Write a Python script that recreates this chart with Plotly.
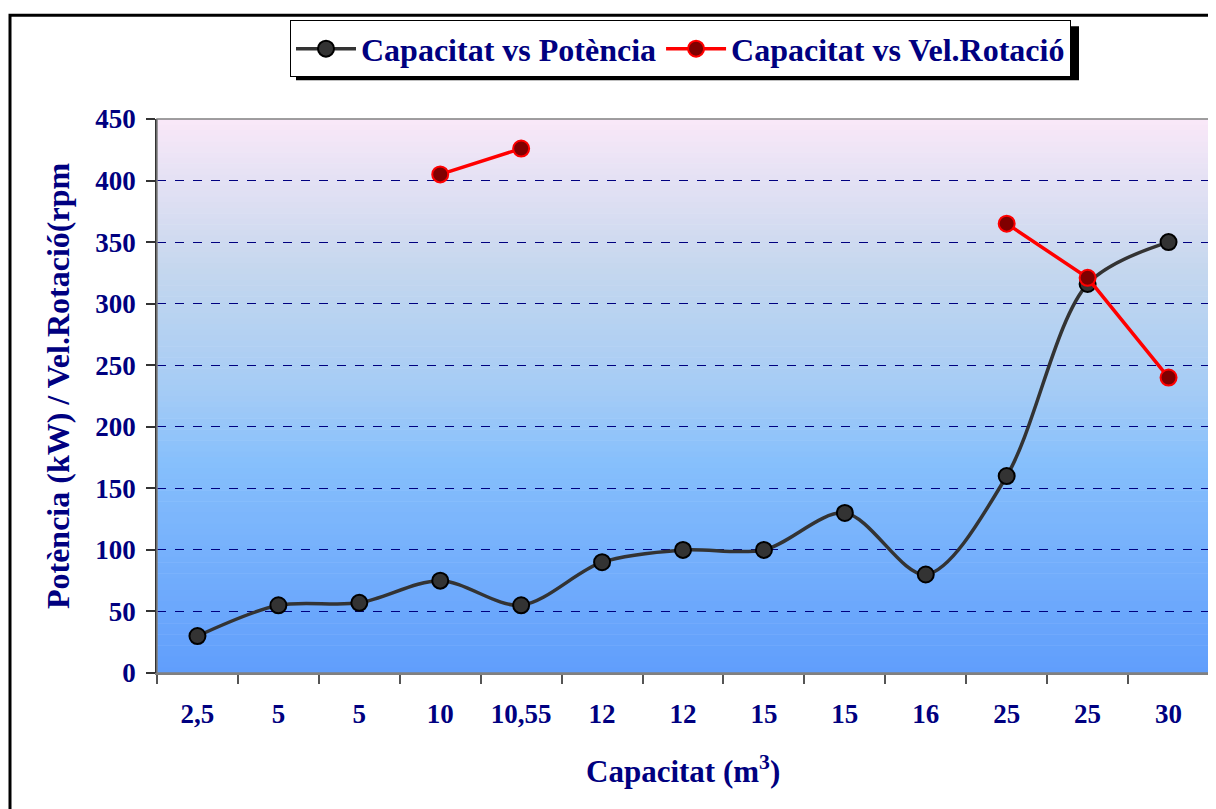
import plotly.graph_objects as go

categories = ["2,5", "5", "5", "10", "10,55", "12", "12", "15", "15", "16", "25", "25", "30"]
potencia = [30, 55, 57, 75, 55, 90, 100, 100, 130, 80, 160, 316, 350]
vel_rotacio = [None, None, None, 405, 426, None, None, None, None, None, 365, 321, 240]
y_ticks = [0, 50, 100, 150, 200, 250, 300, 350, 400, 450]

NAVY = "#000080"
FONT = "Liberation Serif"
xpos = list(range(len(categories)))

# page has 8px body margin; plot area in reference pixels: x 157..1209, y 117..673
L, T, R, B = 157, 117, 1209, 673
PW, PH = R - L, B - T

def px(X):
    return (X - L) / PW

def py(Y):
    return (B - Y) / PH

fig = go.Figure()
fig.add_trace(go.Scatter(
    x=xpos, y=potencia, mode="lines+markers", name="Capacitat vs Potència",
    line=dict(color="#333333", width=3.5, shape="spline", smoothing=0.9),
    marker=dict(size=16, color="#333333", line=dict(color="black", width=2)),
))
fig.add_trace(go.Scatter(
    x=xpos, y=vel_rotacio, mode="lines+markers", name="Capacitat vs Vel.Rotació",
    line=dict(color="#ff0000", width=3.5), connectgaps=False,
    marker=dict(size=16, color="#800000", line=dict(color="#ff0000", width=2)),
))

stops = [(0.0, (250, 232, 248)), (0.27, (197, 215, 238)), (0.5, (163, 203, 246)),
         (0.62, (134, 191, 252)), (0.82, (114, 173, 252)), (1.0, (96, 158, 252))]

def col(f):
    for (f0, c0), (f1, c1) in zip(stops[:-1], stops[1:]):
        if f0 <= f <= f1:
            t = (f - f0) / (f1 - f0)
            return "rgb(%d,%d,%d)" % tuple(round(a + (b - a) * t) for a, b in zip(c0, c1))
    return "rgb(%d,%d,%d)" % stops[-1][1]

shapes = []
N = 100
for i in range(N):
    shapes.append(dict(type="rect", xref="x domain", yref="y domain",
                       x0=0, x1=1, y0=1 - (i + 1) / N - 0.001, y1=1 - i / N,
                       fillcolor=col((i + 0.5) / N), line=dict(width=0), layer="below"))
shapes.append(dict(type="rect", xref="x domain", yref="y domain", x0=0, x1=1, y0=0, y1=1,
                   line=dict(color="#808080", width=1.5), layer="above"))
# outer chart border
shapes.append(dict(type="rect", xref="paper", yref="paper",
                   x0=px(10), x1=px(1240), y0=py(840), y1=py(13),
                   line=dict(color="black", width=3), layer="below"))
# legend shadow
shapes.append(dict(type="rect", xref="paper", yref="paper",
                   x0=px(296), x1=px(1079), y0=py(78), y1=py(24),
                   fillcolor="black", line=dict(width=0), layer="below"))

fig.update_layout(
    width=1216, height=809,
    margin=dict(l=L - 8, r=1216 - (R - 8), t=T - 8, b=809 - (B - 8)),
    paper_bgcolor="white", plot_bgcolor="rgba(0,0,0,0)",
    font=dict(family=FONT, color=NAVY),
    shapes=shapes,
    showlegend=True,
    legend=dict(orientation="h", x=px(290), xanchor="left", y=py(18), yanchor="top",
                bgcolor="white", bordercolor="black", borderwidth=1,
                font=dict(family=FONT, size=32, color=NAVY, weight="bold"),
                itemwidth=60, tracegroupgap=0),
    xaxis=dict(range=[-0.5, len(categories) - 0.5], tickvals=xpos, ticktext=categories,
               ticks="", showgrid=False, zeroline=False,
               tickfont=dict(family=FONT, size=27, color=NAVY, weight="bold"),
               showline=True, linecolor="#808080", linewidth=1.5,
               minor=dict(tick0=-0.5, dtick=1, ticks="outside", ticklen=9, tickcolor="#555555",
                          tickwidth=1.5, showgrid=False),
               ticklabelstandoff=16),
    yaxis=dict(range=[0, 450], tickvals=y_ticks, ticks="outside", ticklen=9, tickcolor="#333333",
               tickwidth=1.5,
               showgrid=True, gridcolor=NAVY, griddash="dash", gridwidth=1, zeroline=False,
               showline=True, linecolor="#333333", linewidth=1.5,
               tickfont=dict(family=FONT, size=27, color=NAVY, weight="bold"),
               ticklabelstandoff=5),
    annotations=[
        dict(text="Potència (kW) / Vel.Rotació(rpm", xref="paper", yref="paper",
             x=px(58), y=py(385), textangle=-90, showarrow=False,
             xanchor="center", yanchor="middle",
             font=dict(family=FONT, size=32, color=NAVY, weight="bold")),
        dict(text="Capacitat (m<sup>3</sup>)", xref="paper", yref="paper",
             x=px(683), y=py(770), showarrow=False,
             xanchor="center", yanchor="middle",
             font=dict(family=FONT, size=31, color=NAVY, weight="bold")),
    ],
)

fig.write_html("out.html")
